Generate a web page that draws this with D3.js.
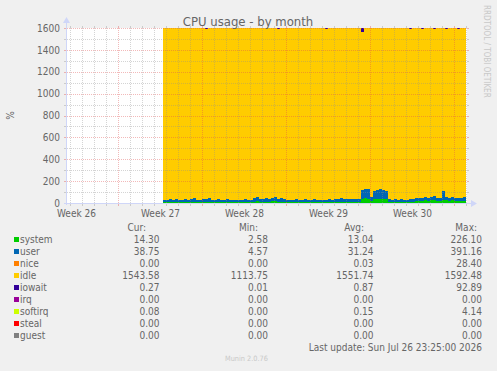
<!DOCTYPE html>
<html>
<head>
<meta charset="utf-8">
<script src="https://cdnjs.cloudflare.com/ajax/libs/d3/7.8.5/d3.min.js"></script>
<style>
    body { margin: 0; background: #f0f0f0; }
    svg text { font-family: "DejaVu Sans Condensed", "DejaVu Sans", sans-serif; font-stretch: condensed; fill: #666666; }
</style>
</head>
<body>
<div id="chart"></div>
<script>
// samples every 6 hours, first one Wed Jul 1 2026 18:00
var firstSample = Date.UTC(2026, 6, 1, 18);
var stepHours = 6;

var system = [
    9, 8, 10, 9, 9, 8, 10, 9, 8, 10, 12, 9, 8, 10,
    9, 12, 8, 9, 10, 9, 8, 9, 9, 8, 9, 8, 9, 10,
    8, 9, 12, 14, 10, 11, 12, 10, 14, 16, 11, 13, 9, 9,
    8, 9, 10, 9, 9, 10, 8, 9, 10, 9, 8, 9, 9, 10,
    9, 10, 12, 13, 11, 10, 9, 10, 10, 11,
    38, 42, 40, 18,
    34, 38, 40, 37, 35,
    10, 9, 10, 9, 10, 9, 8, 9, 11,
    20, 22, 21, 23, 22, 24, 26, 22, 21, 30, 23, 22, 23, 21, 22, 22, 14
];
var user = [
    23, 22, 24, 22, 24, 22, 22, 26, 23, 23, 34, 23, 22, 24,
    24, 38, 23, 21, 24, 23, 22, 24, 22, 21, 23, 22, 22, 23,
    22, 23, 32, 38, 25, 27, 30, 26, 34, 39, 29, 33, 25, 23,
    20, 21, 23, 22, 23, 25, 22, 22, 24, 21, 21, 23, 22, 23,
    23, 24, 28, 29, 27, 26, 24, 25, 24, 25,
    80, 88, 84, 40,
    74, 84, 86, 81, 77,
    25, 23, 23, 22, 24, 23, 22, 24, 25,
    28, 28, 25, 29, 27, 31, 38, 28, 26, 76, 29, 26, 28, 25, 28, 27, 39
];
var idle = [
    1568, 1570, 1566, 1569, 1567, 1570, 1568, 1565, 1569, 1567, 1554, 1568, 1570, 1566,
    1561, 1550, 1569, 1570, 1566, 1568, 1570, 1567, 1569, 1571, 1568, 1570, 1569, 1567,
    1570, 1568, 1556, 1548, 1565, 1562, 1558, 1564, 1552, 1545, 1555, 1554, 1566, 1568,
    1572, 1570, 1567, 1569, 1568, 1565, 1570, 1569, 1566, 1570, 1571, 1568, 1563, 1567,
    1568, 1566, 1560, 1558, 1562, 1564, 1567, 1565, 1566, 1564,
    1444, 1470, 1476, 1542,
    1492, 1478, 1474, 1482, 1488,
    1565, 1568, 1567, 1569, 1566, 1568, 1570, 1561, 1564,
    1552, 1550, 1549, 1548, 1551, 1545, 1530, 1550, 1553, 1494, 1542, 1552, 1549, 1554, 1545, 1551, 1547
];
var iowait = [
    0, 0, 0, 0, 0, 0, 0, 0, 0, 0, 0, 0, 0, 0,
    6, 0, 0, 0, 0, 0, 0, 0, 0, 0, 0, 0, 0, 0,
    0, 0, 0, 0, 0, 0, 0, 0, 0, 0, 5, 0, 0, 0,
    0, 0, 0, 0, 0, 0, 0, 0, 0, 0, 0, 0, 6, 0,
    0, 0, 0, 0, 0, 0, 0, 0, 0, 0,
    38, 0, 0, 0,
    0, 0, 0, 0, 0,
    0, 0, 0, 0, 0, 0, 0, 6, 0,
    0, 0, 5, 0, 0, 0, 6, 0, 0, 0, 6, 0, 0, 0, 5, 0, 0
];

var yTicks = [0, 200, 400, 600, 800, 1000, 1200, 1400, 1600];

var fieldNames = ["system", "user", "nice", "idle", "iowait", "irq", "softirq", "steal", "guest"];
var fieldColors = ["#00cc00", "#0066b3", "#ff8000", "#ffcc00", "#330099", "#990099", "#ccff00", "#ff0000", "#808080"];
var curValues = [14.30, 38.75, 0.00, 1543.58, 0.27, 0.00, 0.08, 0.00, 0.00];
var minValues = [2.58, 4.57, 0.00, 1113.75, 0.01, 0.00, 0.00, 0.00, 0.00];
var avgValues = [13.04, 31.24, 0.03, 1551.74, 0.87, 0.00, 0.15, 0.00, 0.00];
var maxValues = [226.10, 391.16, 28.40, 1592.48, 92.89, 0.00, 4.14, 0.00, 0.00];

var width = 497, height = 371;
var plot = {left: 67, right: 467, top: 28, bottom: 203};

var svg = d3.select("#chart")
    .append("svg")
    .attr("width", width)
    .attr("height", height);

svg.append("rect")
    .attr("width", width)
    .attr("height", height)
    .attr("fill", "#f0f0f0");

var x = d3.scaleUtc()
    .domain([new Date(Date.UTC(2026, 5, 23, 18)), new Date(Date.UTC(2026, 6, 27, 2))])
    .range([plot.left, plot.right]);

var y = d3.scaleLinear()
    .domain([0, 1600])
    .range([plot.bottom, plot.top]);

svg.append("rect")
    .attr("x", plot.left)
    .attr("y", plot.top)
    .attr("width", plot.right - plot.left)
    .attr("height", plot.bottom - plot.top)
    .attr("fill", "#ffffff");

// stacked areas
var rows = system.map(function(d, i) {
    return {
        t: new Date(firstSample + i * stepHours * 3600e3),
        system: system[i], user: user[i], idle: idle[i], iowait: iowait[i]
    };
});
// closing point so the last step gets its width
var lastRow = Object.assign({}, rows[rows.length - 1]);
lastRow.t = new Date(firstSample + rows.length * stepHours * 3600e3);
rows.push(lastRow);

var keys = ["system", "user", "idle", "iowait"];
var color = d3.scaleOrdinal()
    .domain(fieldNames)
    .range(fieldColors);

var series = d3.stack().keys(keys)(rows);

var area = d3.area()
    .curve(d3.curveStepAfter)
    .x(function(d) { return x(d.data.t); })
    .y0(function(d) { return y(d[0]); })
    .y1(function(d) { return y(d[1]); });

svg.append("g")
    .selectAll("path")
    .data(series)
    .enter().append("path")
    .attr("d", area)
    .attr("fill", function(d) { return color(d.key); })
    .attr("shape-rendering", "crispEdges");

// grid on top of the data, like rrdtool
var grid = svg.append("g").attr("shape-rendering", "crispEdges");
var minorColor = "rgba(143,143,143,0.38)";
var majorColor = "rgba(222,79,79,0.4)";

var days = d3.utcDay.range(x.domain()[0], x.domain()[1]);
days.forEach(function(d) {
    var px = Math.round(x(d)) + 0.5;
    var major = d.getUTCDay() === 0;
    var c = major ? majorColor : minorColor;
    grid.append("line")
        .attr("x1", px).attr("x2", px)
        .attr("y1", plot.bottom).attr("y2", plot.top)
        .attr("stroke", c)
        .attr("stroke-dasharray", "1,1");
    grid.append("line")
        .attr("x1", px).attr("x2", px)
        .attr("y1", plot.bottom).attr("y2", plot.bottom + 3)
        .attr("stroke", c);
    grid.append("line")
        .attr("x1", px).attr("x2", px)
        .attr("y1", plot.top - 2).attr("y2", plot.top)
        .attr("stroke", c);
});

d3.range(100, 1700, 100).forEach(function(v) {
    var py = Math.round(y(v)) + 0.5;
    var c = v % 200 === 0 ? majorColor : minorColor;
    grid.append("line")
        .attr("x1", plot.left).attr("x2", plot.right)
        .attr("y1", py).attr("y2", py)
        .attr("stroke", c)
        .attr("stroke-dasharray", "1,1");
    grid.append("line")
        .attr("x1", plot.left - 3).attr("x2", plot.left)
        .attr("y1", py).attr("y2", py)
        .attr("stroke", c);
    grid.append("line")
        .attr("x1", plot.right).attr("x2", plot.right + 2)
        .attr("y1", py).attr("y2", py)
        .attr("stroke", c);
});

// axis lines with arrows
var axisColor = "#cfd6f8";
svg.append("line")
    .attr("x1", plot.left - 0.5).attr("x2", plot.left - 0.5)
    .attr("y1", plot.bottom + 2).attr("y2", plot.top - 5)
    .attr("stroke", axisColor);
svg.append("line")
    .attr("x1", plot.left - 3).attr("x2", plot.right + 4)
    .attr("y1", plot.bottom + 0.5).attr("y2", plot.bottom + 0.5)
    .attr("stroke", axisColor);
svg.append("path")
    .attr("d", "M" + (plot.left - 4) + "," + (plot.top - 5) + "h7l-3.5,-6z")
    .attr("fill", axisColor);
svg.append("path")
    .attr("d", "M" + (plot.right + 4) + "," + (plot.bottom - 3) + "v7l6,-3.5z")
    .attr("fill", axisColor);

// tick labels
var yAxis = svg.append("g")
    .attr("transform", "translate(" + plot.left + ",0)")
    .call(d3.axisLeft(y).tickValues(yTicks).tickFormat(d3.format("d")).tickSize(0).tickPadding(7));
yAxis.select(".domain").remove();
yAxis.selectAll("text").attr("font-size", 10).attr("fill", "#666666");

var weekMids = d3.utcSunday.range(d3.utcSunday.floor(x.domain()[0]), x.domain()[1])
    .map(function(d) { return new Date(+d + 3.5 * 864e5); })
    .filter(function(d) { return d > x.domain()[0] && d < x.domain()[1]; });

var xAxis = svg.append("g")
    .attr("transform", "translate(0," + plot.bottom + ")")
    .call(d3.axisBottom(x).tickValues(weekMids).tickFormat(d3.utcFormat("Week %V")).tickSize(0).tickPadding(7));
xAxis.select(".domain").remove();
xAxis.selectAll("text").attr("font-size", 10).attr("fill", "#666666");

// title and side texts
svg.append("text")
    .attr("x", 248)
    .attr("y", 25.5)
    .attr("text-anchor", "middle")
    .attr("font-size", 13)
    .text("CPU usage - by month");

svg.append("text")
    .attr("transform", "translate(13.5,115.5) rotate(-90)")
    .attr("text-anchor", "middle")
    .attr("font-size", 10)
    .text("%");

svg.append("text")
    .attr("transform", "translate(484,5) rotate(90)")
    .attr("font-size", 8)
    .style("fill", "#c8c8c8")
    .text("RRDTOOL / TOBI OETIKER");

// legend
var fmt = d3.format(".2f");
var legend = svg.append("g").attr("font-size", 10);
var headers = [["Cur:", 146], ["Min:", 258], ["Avg:", 364], ["Max:", 477]];
headers.forEach(function(h) {
    legend.append("text")
        .attr("x", h[1]).attr("y", 230.5)
        .attr("text-anchor", "end")
        .text(h[0]);
});

var columns = [[curValues, 159.5], [minValues, 268], [avgValues, 373.5], [maxValues, 482]];
fieldNames.forEach(function(name, i) {
    var base = 242.5 + i * 12;
    legend.append("rect")
        .attr("x", 14).attr("y", base - 5.5)
        .attr("width", 5).attr("height", 5)
        .attr("fill", fieldColors[i]);
    legend.append("text")
        .attr("x", 20).attr("y", base)
        .text(name);
    columns.forEach(function(c) {
        legend.append("text")
            .attr("x", c[1]).attr("y", base)
            .attr("text-anchor", "end")
            .text(fmt(c[0][i]));
    });
});

legend.append("text")
    .attr("x", 482).attr("y", 350.5)
    .attr("text-anchor", "end")
    .text("Last update: Sun Jul 26 23:25:00 2026");

svg.append("text")
    .attr("x", 246.5).attr("y", 361)
    .attr("text-anchor", "middle")
    .attr("font-size", 7.3)
    .style("fill", "#c8c8c8")
    .text("Munin 2.0.76");
</script>
</body>
</html>
